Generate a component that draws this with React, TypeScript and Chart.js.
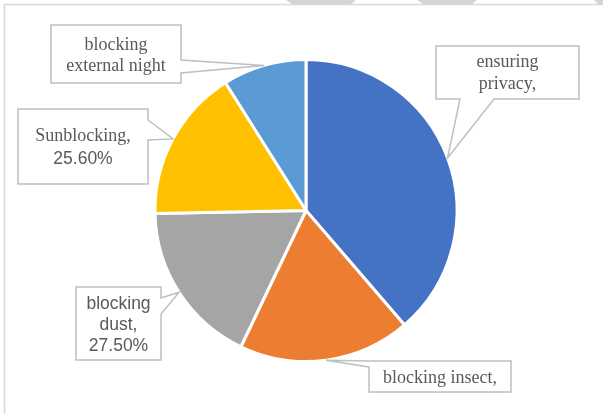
import React, { useEffect, useRef } from "react";
import { Chart, registerables } from "chart.js";

Chart.register(...registerables);

// ---- data ----
const categories = [
  "ensuring privacy",
  "blocking insect",
  "blocking dust",
  "Sunblocking",
  "blocking external night",
];
const values = [60.5, 28.8, 27.5, 25.6, 14.0];
const labelLines = [
  ["ensuring", "privacy,"],
  ["blocking insect,"],
  ["blocking", "dust,", "27.50%"],
  ["Sunblocking,", "25.60%"],
  ["blocking", "external night"],
];
const sliceColors = ["#4472C4", "#ED7D31", "#A5A5A5", "#FFC000", "#5B9BD5"];

// ---- layout / style of callouts (index aligned with categories) ----
const SERIF = '18px "Liberation Serif", "Times New Roman", serif';
const SANS = '17.5px "Liberation Sans", Arial, sans-serif';
const callouts = [
  { box: [436, 46, 143, 53], edge: "bottom", base: [460, 494], lh: 22, dy: 1, fonts: [SERIF, SERIF] },
  { box: [369, 361, 142, 31], edge: "left", base: [361, 367], lh: 22, dy: 1.5, fonts: [SERIF] },
  { box: [76, 287, 85, 73], edge: "right", base: [298, 314], lh: 21.3, dy: 1.5, fonts: [SANS, SANS, SANS] },
  { box: [18, 109, 130, 75], edge: "right", base: [120, 140], lh: 22.6, dy: 1.5, fonts: [SERIF, SANS] },
  { box: [51, 25, 130, 58], edge: "right", base: [60, 73], lh: 21, dy: 1.5, fonts: [SERIF, SERIF] },
];

const framePlugin = {
  id: "frame",
  beforeDraw(chart: any) {
    const ctx = chart.ctx;
    ctx.save();
    ctx.fillStyle = "#ffffff";
    ctx.fillRect(0, 0, chart.width, chart.height);
    // faint top artifacts
    ctx.fillStyle = "#d4d4d4";
    const traps = [
      [286, 356, 292, 351],
      [417, 477, 423, 472],
      [594, 603, 598, 603],
    ];
    for (const t of traps) {
      ctx.beginPath();
      ctx.moveTo(t[0], 0);
      ctx.lineTo(t[1], 0);
      ctx.lineTo(t[3], 4);
      ctx.lineTo(t[2], 4);
      ctx.closePath();
      ctx.fill();
    }
    ctx.strokeStyle = "#d9d9d9";
    ctx.lineWidth = 1.5;
    ctx.beginPath();
    ctx.moveTo(4.5, 414);
    ctx.lineTo(4.5, 4.5);
    ctx.lineTo(603, 4.5);
    ctx.stroke();
    ctx.restore();
  },
};

const calloutPlugin = {
  id: "callouts",
  afterDatasetsDraw(chart: any) {
    const ctx = chart.ctx;
    const meta = chart.getDatasetMeta(0);
    ctx.save();
    meta.data.forEach((arc: any, i: number) => {
      const c = callouts[i];
      if (!c) return;
      const p = arc.getProps(["x", "y", "startAngle", "endAngle", "outerRadius"], true);
      const mid = (p.startAngle + p.endAngle) / 2;
      const tx = p.x + Math.cos(mid) * p.outerRadius;
      const ty = p.y + Math.sin(mid) * p.outerRadius;
      const [x, y, w, h] = c.box;
      const [b1, b2] = c.base;
      ctx.beginPath();
      ctx.moveTo(x, y);
      if (c.edge === "right") {
        ctx.lineTo(x + w, y);
        ctx.lineTo(x + w, b1);
        ctx.lineTo(tx, ty);
        ctx.lineTo(x + w, b2);
        ctx.lineTo(x + w, y + h);
        ctx.lineTo(x, y + h);
      } else if (c.edge === "bottom") {
        ctx.lineTo(x + w, y);
        ctx.lineTo(x + w, y + h);
        ctx.lineTo(b2, y + h);
        ctx.lineTo(tx, ty);
        ctx.lineTo(b1, y + h);
        ctx.lineTo(x, y + h);
      } else if (c.edge === "left") {
        ctx.lineTo(x + w, y);
        ctx.lineTo(x + w, y + h);
        ctx.lineTo(x, y + h);
        ctx.lineTo(x, b2);
        ctx.lineTo(tx, ty);
        ctx.lineTo(x, b1);
      }
      ctx.closePath();
      ctx.fillStyle = "#ffffff";
      ctx.fill();
      ctx.strokeStyle = "#bfbfbf";
      ctx.lineWidth = 1.5;
      ctx.lineJoin = "miter";
      ctx.stroke();

      const lines = labelLines[i];
      const cx = x + w / 2;
      const cy = y + h / 2 + c.dy;
      const n = lines.length;
      ctx.fillStyle = "#595959";
      ctx.textAlign = "center";
      ctx.textBaseline = "middle";
      lines.forEach((ln: string, k: number) => {
        ctx.font = c.fonts[k] || SERIF;
        ctx.fillText(ln, cx, cy + (k - (n - 1) / 2) * c.lh);
      });
    });
    ctx.restore();
  },
};

export default function App() {
  const ref = useRef<HTMLCanvasElement | null>(null);
  useEffect(() => {
    if (!ref.current) return;
    const chart = new Chart(ref.current, {
      type: "pie",
      data: {
        labels: categories,
        datasets: [
          {
            data: values,
            backgroundColor: sliceColors,
            borderColor: "#ffffff",
            borderWidth: 3,
          },
        ],
      },
      options: {
        responsive: false,
        animation: false,
        layout: { padding: { top: 58, bottom: 51, left: 150, right: 141 } },
        plugins: {
          legend: { display: false },
          tooltip: { enabled: false },
        },
      },
      plugins: [framePlugin, calloutPlugin],
    });
    return () => chart.destroy();
  }, []);
  return (
    <div style={{ position: "fixed", left: 0, top: 0, width: 603, height: 414, background: "#fff" }}>
      <canvas ref={ref} width={603} height={414} style={{ display: "block", width: 603, height: 414 }} />
    </div>
  );
}
